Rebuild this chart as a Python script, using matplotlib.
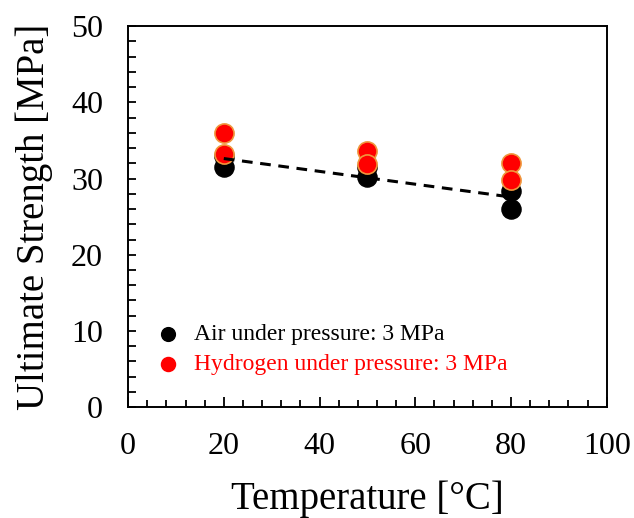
import numpy as np
import matplotlib.pyplot as plt
from matplotlib.ticker import MultipleLocator

# values
air_temp = [20, 20, 50, 50, 80, 80]
air_strength = [31.5, 33.0, 30.2, 31.5, 28.4, 26.0]
h2_temp = [20, 20, 50, 50, 80, 80]
h2_strength = [36.0, 33.2, 33.6, 31.9, 32.0, 29.8]

plt.rcParams['font.family'] = ['Liberation Serif', 'DejaVu Serif']

fig = plt.figure(figsize=(6.34, 5.18), dpi=100)
ax = fig.add_axes([0.202, 0.214, 0.755, 0.7355])

ax.scatter(air_temp, air_strength, s=190, color='black', zorder=3,
           label='Air under pressure: 3 MPa')
ax.scatter(h2_temp, h2_strength, s=190, color='red', edgecolor='#f0963c',
           linewidth=1.2, zorder=4, label='Hydrogen under pressure: 3 MPa')

# linear trend of the air data
k, b = np.polyfit(air_temp, air_strength, 1)
xs = np.array([min(air_temp), max(air_temp)])
ax.plot(xs, k * xs + b, color='black', ls=(0, (3.5, 2.5)), lw=2.2, zorder=5)

ax.set_xlim(0, 100)
ax.set_ylim(0, 50)
ax.xaxis.set_major_locator(MultipleLocator(20))
ax.xaxis.set_minor_locator(MultipleLocator(4))
ax.yaxis.set_major_locator(MultipleLocator(10))
ax.yaxis.set_minor_locator(MultipleLocator(2))
ax.tick_params(which='both', direction='in', top=False, right=False, width=1.3)
ax.tick_params(which='major', labelsize=23, pad=18)
ax.tick_params(axis='x', which='major', length=7.5)
ax.tick_params(axis='x', which='minor', length=5)
ax.tick_params(axis='y', which='both', length=6)
for s in ax.spines.values():
    s.set_linewidth(1.4)

ax.set_xlabel('Temperature [°C]', fontsize=28, labelpad=14)
ax.set_ylabel('Ultimate Strength [MPa]', fontsize=28, labelpad=13)

leg = ax.legend(loc='lower left', bbox_to_anchor=(0.015, 0.06), frameon=False,
                fontsize=17, markerscale=0.72, handletextpad=0.1,
                labelspacing=0.35, borderaxespad=0)
leg.get_texts()[1].set_color('red')
leg.legend_handles[1].set_edgecolor('red')

fig.savefig('out.png', dpi=100)
